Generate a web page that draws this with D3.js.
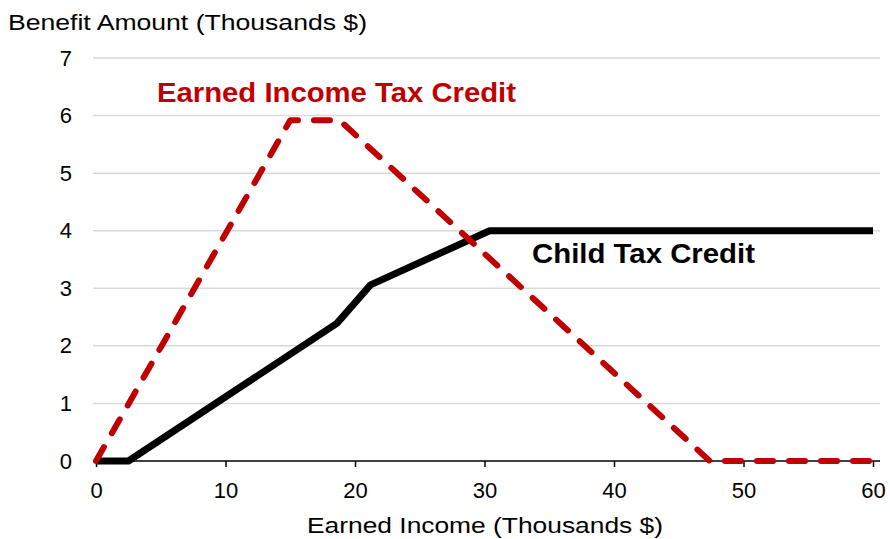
<!DOCTYPE html>
<html>
<head>
<meta charset="utf-8">
<script src="https://cdn.jsdelivr.net/npm/d3@7"></script>
<style>
  body { margin: 0; background: #fff; }
  svg text { font-family: "Liberation Sans", Arial, sans-serif; }
</style>
</head>
<body>
<svg id="chart"></svg>
<script>
var eitcIncome = [0, 15, 18.8, 47.4, 60];
var eitcBenefit = [0, 5.92, 5.92, 0, 0];
var ctcIncome = [0, 2.5, 18.6, 21.2, 30.4, 60];
var ctcBenefit = [0, 0, 2.39, 3.06, 4.0, 4.0];
var xTicks = [0, 10, 20, 30, 40, 50, 60];
var yTicks = [0, 1, 2, 3, 4, 5, 6, 7];

var margin = { top: 58, right: 17, bottom: 78, left: 96 },
  width = 890 - margin.left - margin.right,
  height = 539 - margin.top - margin.bottom;

var svg = d3.select("#chart")
  .attr("width", 890)
  .attr("height", 539)
  .append("g")
  .attr("transform", "translate(" + margin.left + "," + margin.top + ")");

var x = d3.scaleLinear().domain([0, 60]).range([0, width]);
var y = d3.scaleLinear().domain([0, 7]).range([height, 0]);

// gridlines
svg.append("g")
  .selectAll("line")
  .data(yTicks.slice(1))
  .enter().append("line")
  .attr("x1", -3)
  .attr("x2", width + 7)
  .attr("y1", function (d) { return y(d); })
  .attr("y2", function (d) { return y(d); })
  .attr("stroke", "#d9d9d9")
  .attr("stroke-width", 1.5);

// y tick labels
svg.append("g")
  .call(d3.axisLeft(y).tickValues(yTicks).tickFormat(d3.format("d")).tickSize(0).tickPadding(24))
  .call(function (g) { g.select(".domain").remove(); })
  .selectAll("text")
  .attr("font-size", 22)
  .attr("fill", "#000");

// x axis
var xAxis = svg.append("g")
  .attr("transform", "translate(0," + height + ")")
  .call(d3.axisBottom(x).tickValues(xTicks).tickSize(6).tickPadding(15).tickSizeOuter(0));
xAxis.select(".domain").attr("stroke", "#000").attr("stroke-width", 1.5)
  .attr("d", "M-3,0H" + (width + 7));
xAxis.selectAll(".tick line").attr("stroke", "#000").attr("stroke-width", 1.5);
xAxis.selectAll("text").attr("font-size", 22).attr("fill", "#000");

var line = d3.line()
  .x(function (d) { return x(d[0]); })
  .y(function (d) { return y(d[1]); });

var ctc = ctcIncome.map(function (d, i) { return [d, ctcBenefit[i]]; });
var eitc = eitcIncome.map(function (d, i) { return [d, eitcBenefit[i]]; });

svg.append("path")
  .datum(ctc)
  .attr("d", line)
  .attr("fill", "none")
  .attr("stroke", "#000")
  .attr("stroke-width", 7)
  .attr("stroke-linejoin", "round");

svg.append("path")
  .datum(eitc)
  .attr("d", line)
  .attr("fill", "none")
  .attr("stroke", "#c00000")
  .attr("stroke-width", 6)
  .attr("stroke-linejoin", "round")
  .attr("stroke-linecap", "round")
  .attr("stroke-dasharray", "16,16");

// series labels
svg.append("text")
  .attr("x", 157 - margin.left)
  .attr("y", 102 - margin.top)
  .attr("font-size", 28)
  .attr("font-weight", "bold")
  .attr("fill", "#c00000")
  .attr("textLength", 359)
  .attr("lengthAdjust", "spacingAndGlyphs")
  .text("Earned Income Tax Credit");

svg.append("text")
  .attr("x", 532 - margin.left)
  .attr("y", 263 - margin.top)
  .attr("font-size", 28)
  .attr("font-weight", "bold")
  .attr("fill", "#000")
  .attr("textLength", 223)
  .attr("lengthAdjust", "spacingAndGlyphs")
  .text("Child Tax Credit");

// axis titles
d3.select("#chart").append("text")
  .attr("x", 8)
  .attr("y", 30)
  .attr("font-size", 22)
  .attr("textLength", 359)
  .attr("lengthAdjust", "spacingAndGlyphs")
  .text("Benefit Amount (Thousands $)");

d3.select("#chart").append("text")
  .attr("x", 307)
  .attr("y", 533)
  .attr("font-size", 22)
  .attr("textLength", 356)
  .attr("lengthAdjust", "spacingAndGlyphs")
  .text("Earned Income (Thousands $)");
</script>
</body>
</html>
